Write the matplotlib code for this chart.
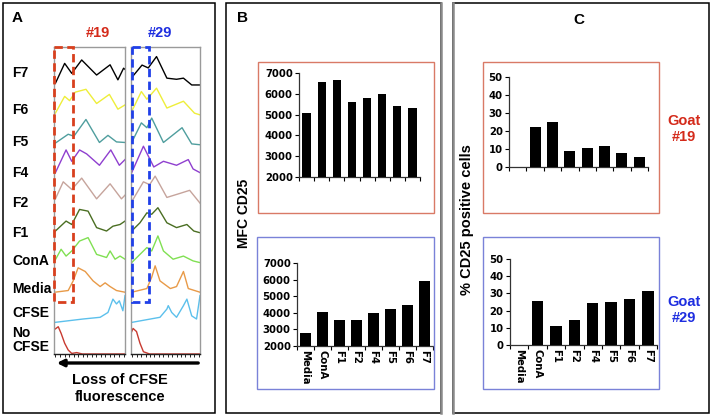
import numpy as np
import matplotlib.pyplot as plt
from matplotlib.patches import Rectangle

W, H = 712, 417

# bar data (panels B and C)
categories = ['Media', 'ConA', 'F1', 'F2', 'F4', 'F5', 'F6', 'F7']
mfc_goat19 = [5100, 6550, 6650, 5620, 5820, 5980, 5420, 5320]
mfc_goat29 = [2800, 4050, 3550, 3550, 4000, 4200, 4450, 5900]
pct_goat19 = [0, 22, 25, 9, 10.5, 11.7, 7.6, 5.4]
pct_goat29 = [0, 25.5, 11, 14.5, 24.5, 25, 26.7, 31.5]

# CFSE histograms (panel A), top row first
hist_labels = ['F7', 'F6', 'F5', 'F4', 'F2', 'F1', 'ConA', 'Media', 'CFSE', 'No\nCFSE']
hist_colors = ['#000000', '#eeee3a', '#4f9e9e', '#8f3fcf', '#c6a49c',
               '#4a6e22', '#80e052', '#e89a48', '#5cc0ec', '#c83a30']

# x = fraction of fluorescence axis, y = fraction of row height
g19_x = [[0.02, 0.15, 0.25, 0.39, 0.60, 0.79, 0.90, 0.98, 1.0],
         [0.02, 0.15, 0.22, 0.30, 0.45, 0.60, 0.78, 0.90, 1.0],
         [0.02, 0.20, 0.28, 0.45, 0.64, 0.76, 0.88, 1.0],
         [0.02, 0.17, 0.25, 0.36, 0.46, 0.64, 0.80, 0.92, 1.0],
         [0.02, 0.13, 0.25, 0.39, 0.60, 0.79, 0.95, 1.0],
         [0.02, 0.17, 0.25, 0.36, 0.48, 0.60, 0.74, 0.83, 0.93, 1.0],
         [0.01, 0.10, 0.17, 0.25, 0.36, 0.48, 0.60, 0.74, 0.79, 0.86, 0.93, 1.0],
         [0.01, 0.20, 0.27, 0.34, 0.44, 0.55, 0.65, 0.72, 0.79, 0.88, 1.0],
         [0.01, 0.41, 0.65, 0.76, 0.83, 0.88, 0.92, 0.97, 1.0],
         [0.0, 0.06, 0.10, 0.15, 0.20, 0.25, 0.32, 0.40, 1.0]]
g19_y = [[0.06, 0.76, 0.41, 0.88, 0.35, 0.71, 0.18, 0.59, 0.55],
         [0.06, 0.65, 0.50, 0.80, 0.90, 0.40, 0.72, 0.20, 0.35],
         [0.06, 0.37, 0.30, 0.89, 0.08, 0.33, 0.10, 0.08],
         [0.07, 0.87, 0.47, 0.87, 0.73, 0.33, 0.87, 0.33, 0.53],
         [0.20, 0.80, 0.53, 0.93, 0.20, 0.73, 0.20, 0.33],
         [0.12, 0.47, 0.35, 0.88, 0.82, 0.24, 0.12, 0.29, 0.35, 0.47],
         [0.12, 0.53, 0.29, 0.47, 0.82, 0.94, 0.35, 0.24, 0.47, 0.18, 0.29, 0.18],
         [0.07, 0.13, 0.47, 0.93, 0.80, 0.47, 0.27, 0.40, 0.27, 0.13, 0.07],
         [0.06, 0.18, 0.24, 0.41, 0.88, 0.71, 0.82, 0.47, 1.0],
         [0.85, 0.96, 0.73, 0.38, 0.14, 0.02, 0.05, 0.0, 0.0]]

g29_x = [[0.02, 0.16, 0.25, 0.37, 0.52, 0.66, 0.76, 0.88, 1.0],
         [0.01, 0.15, 0.23, 0.37, 0.52, 0.63, 0.76, 0.92, 1.0],
         [0.01, 0.15, 0.23, 0.30, 0.47, 0.74, 0.88, 1.0],
         [0.01, 0.18, 0.33, 0.47, 0.66, 0.83, 0.90, 1.0],
         [0.01, 0.18, 0.27, 0.35, 0.52, 0.72, 0.85, 1.0],
         [0.01, 0.13, 0.23, 0.30, 0.39, 0.52, 0.66, 0.81, 0.91, 1.0],
         [0.01, 0.13, 0.23, 0.30, 0.39, 0.47, 0.61, 0.76, 0.90, 1.0],
         [0.01, 0.23, 0.30, 0.35, 0.42, 0.57, 0.66, 0.76, 0.83, 1.0],
         [0.01, 0.42, 0.52, 0.54, 0.59, 0.66, 0.76, 0.81, 0.88, 0.95, 1.0],
         [0.0, 0.03, 0.08, 0.13, 0.18, 0.27, 1.0]]
g29_y = [[0.29, 0.70, 0.60, 1.0, 0.24, 0.20, 0.24, 0.0, 0.0],
         [0.12, 0.82, 0.55, 0.94, 0.24, 0.35, 0.48, 0.06, 0.0],
         [0.08, 0.77, 0.60, 0.94, 0.08, 0.60, 0.03, 0.0],
         [0.07, 1.0, 0.27, 0.47, 0.33, 0.53, 0.20, 0.07],
         [0.10, 0.80, 0.70, 1.0, 0.25, 0.40, 0.50, 0.05],
         [0.12, 0.41, 0.76, 0.71, 0.94, 0.41, 0.24, 0.35, 0.12, 0.06],
         [0.06, 0.35, 0.59, 0.47, 1.0, 0.47, 0.18, 0.29, 0.12, 0.06],
         [0.07, 0.20, 0.60, 1.0, 0.47, 0.20, 0.27, 0.80, 0.20, 0.07],
         [0.06, 0.24, 0.53, 0.65, 0.41, 0.24, 0.65, 0.88, 0.29, 0.18, 1.0],
         [0.73, 0.90, 0.79, 0.38, 0.08, 0.0, 0.0]]

RED = '#d42a1a'
BLUE = '#1e2ee0'
BOX_RED = '#d97a66'
BOX_BLUE = '#7a82d8'
LBL = 'Liberation Sans'
TCK = 'DejaVu Sans'


def px(l, t, r, b):
    return [l / W, 1 - b / H, (r - l) / W, (b - t) / H]


fig = plt.figure(figsize=(W / 100, H / 100), dpi=100)

# ---- panel A: histograms
nrow = len(hist_labels)
for box, xs, ys in [((54, 47, 125, 354), g19_x, g19_y),
                    ((131, 47, 200, 354), g29_x, g29_y)]:
    ax = fig.add_axes(px(*box))
    for i, (x, y, c) in enumerate(zip(xs, ys, hist_colors)):
        base = nrow - 1 - i
        ax.plot(x, np.array(y) * 0.95 + base, color=c, lw=1.0)
    ax.set_xlim(0, 1)
    ax.set_ylim(0, 10.27)
    for s in ax.spines.values():
        s.set_color('#9a9a9a')
        s.set_linewidth(1.0)
    ax.spines['bottom'].set_color('#222222')
    ax.set_yticks([])
    ax.set_xticks(np.linspace(0.02, 0.98, 16))
    ax.set_xticklabels([])
    ax.tick_params(axis='x', length=2, width=0.6, direction='out')

# ---- panels B and C: bar charts
def bar_panel(axbox, frame, fcolor, vals, ylim, yticks, labels, width):
    ax = fig.add_axes(px(*axbox))
    x = np.arange(len(categories))
    ax.bar(x, vals, width, color='black', zorder=3)
    ax.set_xlim(-0.5, len(categories) - 0.5)
    ax.set_ylim(*ylim)
    ax.set_yticks(yticks)
    ax.set_yticklabels([str(v) for v in yticks], fontfamily=TCK,
                       fontweight='bold', fontsize=7.3)
    for s in ['top', 'right']:
        ax.spines[s].set_visible(False)
    for s in ['left', 'bottom']:
        ax.spines[s].set_color('#333333')
        ax.spines[s].set_linewidth(0.9)
    ax.tick_params(axis='y', length=3, width=0.8, pad=1.5)
    ax.set_xticks(np.arange(len(categories) + 1) - 0.5, minor=True)
    ax.tick_params(axis='x', which='minor', length=3, width=0.8)
    if labels:
        ax.set_xticks(x)
        ax.set_xticklabels(categories, rotation=270, fontfamily=TCK,
                           fontweight='bold', fontsize=7.3, va='top', ha='center')
        ax.tick_params(axis='x', which='major', length=0, pad=3)
    else:
        ax.set_xticks([])
    ax.patch.set_alpha(0)
    return frame, fcolor


frames = []
frames.append(bar_panel((299, 73, 420, 177), (258, 62, 434, 213), BOX_RED,
                        mfc_goat19, (2000, 7000), list(range(2000, 7001, 1000)), False, 0.55))
frames.append(bar_panel((297, 263, 433, 346), (257, 237, 434, 389), BOX_BLUE,
                        mfc_goat29, (2000, 7000), list(range(2000, 7001, 1000)), True, 0.63))
frames.append(bar_panel((509, 77, 648, 167), (483, 62, 659, 213), BOX_RED,
                        pct_goat19, (0, 50), list(range(0, 51, 10)), False, 0.63))
frames.append(bar_panel((510, 259, 657, 345), (483, 237, 659, 389), BOX_BLUE,
                        pct_goat29, (0, 50), list(range(0, 51, 10)), True, 0.63))

# ---- overlay: frames, texts, dashed boxes, arrow
ov = fig.add_axes([0, 0, 1, 1], zorder=10)
ov.set_xlim(0, W)
ov.set_ylim(H, 0)
ov.set_axis_off()


def rect(l, t, r, b, **kw):
    ov.add_patch(Rectangle((l, t), r - l, b - t, fill=False, clip_on=False, **kw))


rect(3, 3, 215, 413, ec='black', lw=1.1)
rect(226, 3, 441, 413, ec='black', lw=1.1)
rect(453, 3, 709, 413, ec='black', lw=1.1)
ov.plot([441, 441], [3, 413], color='#8a8a8a', lw=1.8)
ov.plot([453, 453], [3, 413], color='#8a8a8a', lw=1.8)

for (l, t, r, b), c in frames:
    rect(l, t, r, b, ec=c, lw=1.0)

rect(54, 47, 73, 302, ec='#d8401e', lw=2.0, ls=(0, (3, 1.6)))
rect(132, 47, 149, 302, ec='#2040e8', lw=2.0, ls=(0, (3, 1.6)))

ov.annotate('', xy=(54, 363), xytext=(201, 363),
            arrowprops=dict(arrowstyle='-|>', lw=2.4, color='black', mutation_scale=10))

bold = dict(fontfamily=LBL, fontweight='bold')
ov.text(12, 18, 'A', fontsize=11, va='center', ha='left', **bold)
ov.text(237, 18, 'B', fontsize=11, va='center', ha='left', **bold)
ov.text(573, 20, 'C', fontsize=11, va='center', ha='left', **bold)
ov.text(98, 33, '#19', fontsize=10.5, color=RED, va='center', ha='center', **bold)
ov.text(160, 33, '#29', fontsize=10.5, color=BLUE, va='center', ha='center', **bold)

row_y = [73, 110, 142, 173, 203, 233, 261, 289, 313, 340]
for lab, yy in zip(hist_labels, row_y):
    ov.text(12, yy, lab, fontsize=10, va='center', ha='left', linespacing=1.05, **bold)

ov.text(120, 380, 'Loss of CFSE', fontsize=10.5, va='center', ha='center', **bold)
ov.text(120, 397, 'fluorescence', fontsize=10.5, va='center', ha='center', **bold)

ov.text(244, 213, 'MFC CD25', fontsize=10, rotation=90, va='center', ha='center', **bold)
ov.text(467, 220, '% CD25 positive cells', fontsize=10.5, rotation=90,
        va='center', ha='center', **bold)

ov.text(684, 129, 'Goat\n#19', fontsize=10.5, color=RED, va='center', ha='center',
        linespacing=1.15, **bold)
ov.text(684, 310, 'Goat\n#29', fontsize=10.5, color=BLUE, va='center', ha='center',
        linespacing=1.15, **bold)

fig.savefig('out.png', dpi=100)
